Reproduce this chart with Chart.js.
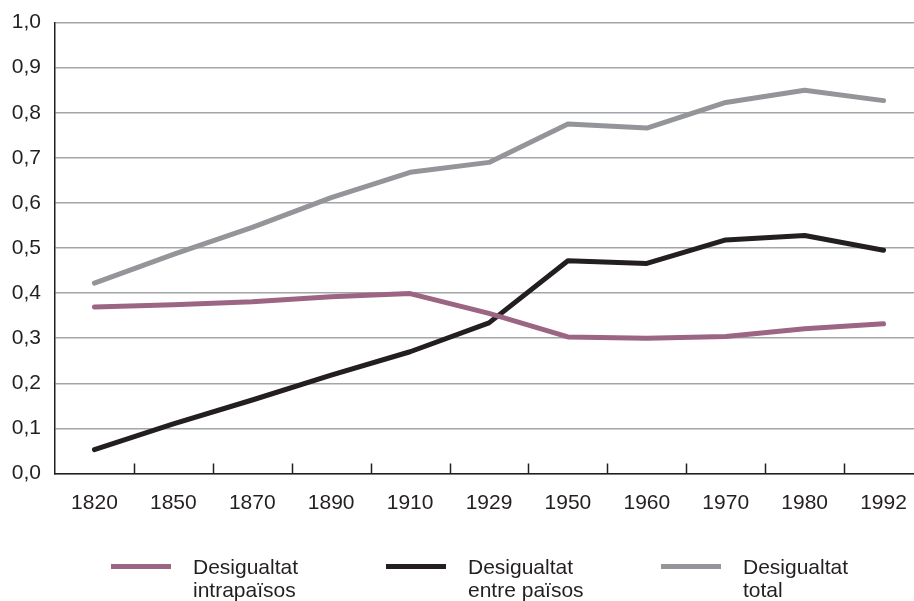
<!DOCTYPE html>
<html>
<head>
<meta charset="utf-8">
<script src="https://cdn.jsdelivr.net/npm/chart.js@4/dist/chart.umd.min.js"></script>
<style>
  html, body { margin: 0; padding: 0; background: #fff; overflow: hidden; }
  body { position: relative; width: 914px; height: 601px; }
  #wrap { position: absolute; left: 0; top: -4px; width: 940px; height: 605px; }
  #legend { position: absolute; left: 111px; top: 555px; display: flex;
            font-family: 'Liberation Sans', Arial, sans-serif; font-size: 21px;
            line-height: 23px; color: #231f20; }
  .item { position: relative; width: 275px; height: 46px; }
  .swatch { position: absolute; left: 0; top: 9px; width: 60px; height: 5px; }
  .txt { position: absolute; left: 82px; top: 0; white-space: nowrap; }
</style>
</head>
<body>
<div id="wrap">
  <canvas id="c"></canvas>
</div>
<div id="legend"></div>
<script>
// Desigualtat mundial 1820-1992 (índex de Theil)
const years = ['1820', '1850', '1870', '1890', '1910', '1929', '1950', '1960', '1970', '1980', '1992'];
const intrapaisos = [0.369, 0.374, 0.381, 0.392, 0.399, 0.355, 0.303, 0.300, 0.304, 0.321, 0.332];
const entrePaisos = [0.053, 0.110, 0.163, 0.218, 0.270, 0.334, 0.472, 0.466, 0.518, 0.528, 0.495];
const total = [0.422, 0.486, 0.546, 0.612, 0.668, 0.690, 0.775, 0.766, 0.823, 0.850, 0.827];
const seriesNames = [['Desigualtat', 'intrapaïsos'], ['Desigualtat', 'entre països'], ['Desigualtat', 'total']];

const INK = '#231f20';
const GRID = '#a3a5a8';
const FONT = "'Liberation Sans', Arial, sans-serif";

function lineSet(name, data, color) {
    return {
        label: name.join(' '),
        data: data,
        borderColor: color,
        backgroundColor: color,
        borderWidth: 5,
        borderCapStyle: 'round',
        borderJoinStyle: 'round',
        pointRadius: 0,
        tension: 0,
        fill: false,
    };
}

// short tick marks on the category boundaries, pointing up into the plot
const innerTicks = {
    id: 'innerTicks',
    afterDraw(chart) {
        const x = chart.scales.x;
        const ctx = chart.ctx;
        const bottom = chart.chartArea.bottom;
        ctx.save();
        ctx.strokeStyle = INK;
        ctx.lineWidth = 1.5;
        for (let i = 1; i < years.length; i++) {
            const px = Math.round((x.getPixelForValue(i - 1) + x.getPixelForValue(i)) / 2) + 0.5;
            ctx.beginPath();
            ctx.moveTo(px, bottom);
            ctx.lineTo(px, bottom - 10);
            ctx.stroke();
        }
        ctx.restore();
    }
};

const chart = new Chart(document.getElementById('c'), {
    type: 'line',
    data: {
        labels: years,
        datasets: [
            lineSet(seriesNames[0], intrapaisos, '#9c6583'),
            lineSet(seriesNames[1], entrePaisos, INK),
            lineSet(seriesNames[2], total, '#939598'),
        ]
    },
    options: {
        responsive: true,
        maintainAspectRatio: false,
        animation: false,
        layout: { padding: { left: 0, right: 17, top: 18, bottom: 77.5 } },
        scales: {
            x: {
                offset: true,
                grid: { display: false },
                border: { color: INK, width: 1.5 },
                ticks: {
                    color: INK,
                    padding: 9,
                    maxRotation: 0,
                    autoSkip: false,
                    font: { size: 21, family: FONT }
                },
                afterFit: s => { s.height = 50; }
            },
            y: {
                min: 0,
                max: 1,
                grid: { color: GRID, lineWidth: 1.5, drawTicks: false },
                border: { color: INK, width: 1.5 },
                ticks: {
                    stepSize: 0.1,
                    color: INK,
                    padding: 14,
                    font: { size: 21, family: FONT },
                    callback: v => v.toFixed(1).replace('.', ',')
                },
                afterFit: s => { s.width = 55; }
            }
        },
        plugins: {
            legend: { display: false },
            tooltip: { enabled: false }
        }
    },
    plugins: [innerTicks]
});

// html legend built from the datasets
const legend = document.getElementById('legend');
chart.data.datasets.forEach((ds, i) => {
    const item = document.createElement('div');
    item.className = 'item';
    const sw = document.createElement('div');
    sw.className = 'swatch';
    sw.style.background = ds.borderColor;
    const txt = document.createElement('div');
    txt.className = 'txt';
    txt.innerHTML = seriesNames[i].join('<br>');
    item.appendChild(sw);
    item.appendChild(txt);
    legend.appendChild(item);
});
</script>
</body>
</html>
